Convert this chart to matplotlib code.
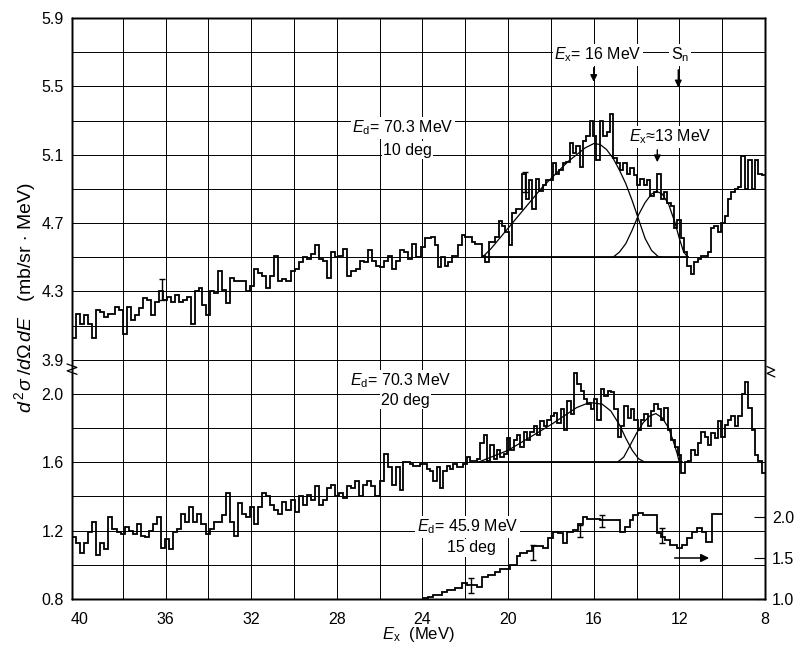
import numpy as np
import matplotlib
matplotlib.use("Agg")
import matplotlib.pyplot as plt
from matplotlib.transforms import blended_transform_factory

plt.rcParams['font.family'] = ['Liberation Sans', 'DejaVu Sans']
plt.rcParams['mathtext.fontset'] = 'custom'
plt.rcParams['mathtext.rm'] = 'Liberation Sans'
plt.rcParams['mathtext.it'] = 'Liberation Sans:italic'
plt.rcParams['mathtext.bf'] = 'Liberation Sans:bold'

# ---------------- data ----------------
# Ed = 70.3 MeV, 10 deg  (mb/sr MeV), bins in three stretches of Ex
ex10_breaks = [40.37, 32.06, 23.9, 8.0]
y10_a = [4.03, 4.17, 4.11, 4.16, 4.11, 4.03, 4.19, 4.18, 4.15, 4.17,
         4.17, 4.21, 4.19, 4.05, 4.21, 4.13, 4.16, 4.20, 4.26, 4.25,
         4.16, 4.24, 4.30, 4.25, 4.27, 4.24, 4.28, 4.24, 4.25, 4.27,
         4.11, 4.30, 4.32, 4.22, 4.16, 4.30, 4.29, 4.42, 4.31, 4.23,
         4.38, 4.36, 4.36, 4.36, 4.30]
y10_b = [4.33, 4.43, 4.41, 4.39, 4.32, 4.39, 4.51, 4.36, 4.37, 4.36,
         4.42, 4.43, 4.47, 4.50, 4.49, 4.52, 4.57, 4.49, 4.48, 4.38,
         4.53, 4.50, 4.51, 4.55, 4.39, 4.42, 4.43, 4.48, 4.47, 4.54,
         4.48, 4.45, 4.44, 4.48, 4.51, 4.43, 4.48, 4.54, 4.53, 4.49,
         4.58, 4.50, 4.56]
y10_c = [4.61, 4.61, 4.62, 4.57, 4.44, 4.50, 4.45, 4.47, 4.51, 4.51,
         4.57, 4.63, 4.62, 4.62, 4.59, 4.58, 4.58, 4.51, 4.47, 4.59,
         4.59, 4.62, 4.71, 4.68, 4.65, 4.57, 4.76, 4.78, 4.78, 4.99,
         4.84, 4.95, 4.78, 4.96, 4.89, 4.92, 4.95, 4.95, 5.05, 4.99,
         5.01, 5.05, 5.06, 5.17, 5.11, 5.15, 5.03, 5.18, 5.21, 5.30,
         5.21, 5.07, 5.30, 5.21, 5.23, 5.34, 5.08, 5.05, 5.01, 5.05,
         4.99, 5.02, 4.98, 4.92, 4.96, 4.92, 4.95, 4.86, 4.88, 4.99,
         4.84, 4.88, 4.82, 4.80, 4.67, 4.72, 4.61, 4.53, 4.45, 4.40,
         4.47, 4.49, 4.51, 4.51, 4.53, 4.67, 4.68, 4.65, 4.70, 4.74,
         4.84, 4.88, 4.90, 4.91, 5.09, 4.90, 5.07, 4.90, 5.07, 4.99,
         4.98]

# Ed = 70.3 MeV, 20 deg
ex20_breaks = [40.37, 25.06, 8.0]
y20_a = [1.16, 1.13, 1.07, 1.13, 1.19, 1.25, 1.06, 1.13, 1.09, 1.28,
         1.21, 1.19, 1.18, 1.22, 1.20, 1.18, 1.24, 1.17, 1.16, 1.20,
         1.24, 1.28, 1.10, 1.15, 1.09, 1.19, 1.21, 1.30, 1.25, 1.34,
         1.25, 1.30, 1.24, 1.18, 1.21, 1.25, 1.25, 1.29, 1.42, 1.25,
         1.17, 1.36, 1.30, 1.28, 1.34, 1.24, 1.34, 1.42, 1.40, 1.35,
         1.32, 1.30, 1.37, 1.32, 1.38, 1.31, 1.40, 1.35, 1.41, 1.38,
         1.46, 1.35, 1.38, 1.45, 1.47, 1.40, 1.42, 1.39, 1.46, 1.45,
         1.49, 1.40, 1.47, 1.49, 1.46, 1.40, 1.49, 1.65, 1.57, 1.47,
         1.57]
y20_b = [1.44, 1.60, 1.60, 1.59, 1.58, 1.58, 1.59, 1.59, 1.56, 1.55,
         1.49, 1.57, 1.45, 1.55, 1.58, 1.56, 1.59, 1.57, 1.57, 1.59,
         1.63, 1.61, 1.61, 1.62, 1.71, 1.76, 1.61, 1.70, 1.62, 1.67,
         1.63, 1.65, 1.74, 1.67, 1.73, 1.76, 1.69, 1.78, 1.73, 1.78,
         1.81, 1.76, 1.84, 1.81, 1.85, 1.87, 1.89, 1.83, 1.91, 1.79,
         1.96, 1.88, 2.12, 2.06, 2.02, 1.97, 1.94, 1.91, 1.97, 1.85,
         2.03, 1.99, 2.02, 2.01, 1.91, 1.75, 1.81, 1.93, 1.86, 1.91,
         1.85, 1.79, 1.85, 1.88, 1.81, 1.90, 1.94, 1.91, 1.85, 1.92,
         1.79, 1.73, 1.69, 1.64, 1.54, 1.60, 1.61, 1.67, 1.64, 1.71,
         1.78, 1.75, 1.70, 1.77, 1.74, 1.84, 1.75, 1.82, 1.85, 1.87,
         1.81, 1.87, 2.00, 2.07, 1.92, 1.79, 1.64, 1.61, 1.54]

# Ed = 45.9 MeV, 15 deg (right-hand scale)
ex45_edges = [24.04, 23.73, 23.50, 23.11, 22.87, 22.49, 22.17, 21.94, 21.47, 21.24,
              20.93, 20.62, 20.38, 19.92, 19.60, 19.45, 19.14, 18.90, 18.67, 18.36,
              18.12, 17.89, 17.66, 17.42, 17.27, 16.96, 16.72, 16.52, 16.33, 15.71,
              14.78, 14.54, 14.31, 14.15, 13.92, 13.69, 13.06, 12.87, 12.67, 12.44,
              12.13, 11.89, 11.66, 11.43, 11.19, 10.96, 10.76, 10.49, 10.02]
y45 = [1.01, 1.03, 1.05, 1.09, 1.11, 1.13, 1.19, 1.17, 1.15, 1.27,
       1.29, 1.33, 1.37, 1.41, 1.52, 1.56, 1.58, 1.65, 1.65, 1.62,
       1.74, 1.82, 1.80, 1.68, 1.82, 1.84, 1.92, 2.00, 1.97, 1.96,
       1.82, 1.88, 1.96, 2.02, 2.05, 2.03, 1.80, 1.76, 1.72, 1.66,
       1.62, 1.66, 1.74, 1.82, 1.86, 1.82, 1.70, 2.04]
err45_ex = [21.71, 18.83, 16.64, 15.63, 12.83]
err45_lo = [1.07, 1.48, 1.76, 1.88, 1.68]
err45_hi = [1.25, 1.66, 1.90, 2.02, 1.86]

err10_ex = [36.18, 19.21]
err10_lo = [4.25, 4.88]
err10_hi = [4.37, 5.00]

# fitted peaks
fit10_big_ex = [21.2, 20.8, 20.4, 20.0, 19.6, 19.2, 18.8, 18.4, 18.0, 17.6, 17.2, 16.8,
                16.4, 16.0, 15.7, 15.4, 15.1, 14.8, 14.5, 14.2, 13.9, 13.6, 13.3, 13.0, 12.8]
fit10_big_y = [4.50, 4.55, 4.61, 4.67, 4.73, 4.79, 4.85, 4.91, 4.96, 5.01, 5.06, 5.10,
               5.14, 5.165, 5.16, 5.13, 5.08, 5.01, 4.93, 4.83, 4.72, 4.61, 4.54, 4.505, 4.50]
fit10_small_ex = [15.1, 14.8, 14.5, 14.2, 13.9, 13.6, 13.3, 13.05, 12.8, 12.5, 12.2, 12.0, 11.8, 11.6]
fit10_small_y = [4.50, 4.53, 4.58, 4.66, 4.75, 4.82, 4.87, 4.885, 4.87, 4.81, 4.70, 4.61, 4.53, 4.50]
base10 = 4.5
base10_ex = [21.2, 11.6]

fit20_big_ex = [21.4, 20.8, 20.0, 19.2, 18.4, 18.0, 17.4, 16.8, 16.2, 15.6, 15.2, 14.8,
                14.5, 14.2, 13.9, 13.6]
fit20_big_y = [1.60, 1.63, 1.67, 1.73, 1.79, 1.82, 1.87, 1.92, 1.95, 1.94, 1.90, 1.82,
               1.74, 1.67, 1.62, 1.60]
fit20_small_ex = [14.9, 14.6, 14.3, 14.0, 13.7, 13.4, 13.1, 12.8, 12.5, 12.3, 12.1, 12.0]
fit20_small_y = [1.60, 1.63, 1.70, 1.77, 1.83, 1.87, 1.885, 1.86, 1.80, 1.73, 1.65, 1.60]
base20 = 1.6
base20_ex = [21.4, 11.9]

xticks = [40, 36, 32, 28, 24, 20, 16, 12, 8]
lower_ticks = [0.8, 1.2, 1.6, 2.0]
upper_ticks = [3.9, 4.3, 4.7, 5.1, 5.5, 5.9]
right_ticks = [1.0, 1.5, 2.0]

# axis scales: lower panel 0.8-4.2 in plot units, upper panel shifted by 1.7
ylim_low = (0.8, 4.2)
shift_up = 1.7
right_scale = 0.48   # plot units per unit of the right-hand scale


def edges_from(breaks, parts):
    out = [np.linspace(breaks[0], breaks[1], len(parts[0]) + 1)]
    for i in range(1, len(parts)):
        out.append(np.linspace(breaks[i], breaks[i + 1], len(parts[i]) + 1)[1:])
    return np.concatenate(out)


fig = plt.figure(figsize=(7.95, 6.56), dpi=100)
ax = fig.add_axes([72 / 795, 57 / 656, 693 / 795, 581 / 656])
ax.set_xlim(40.37, 8)
ax.set_ylim(*ylim_low)

ax_up = ax.twinx()
ax_up.set_ylim(ylim_low[0] + shift_up, ylim_low[1] + shift_up)
ax_r = ax.twinx()
ax_r.set_ylim(1.0, 1.0 + (ylim_low[1] - ylim_low[0]) / right_scale)

# grid
for x in np.arange(38, 9, -2):
    ax.axvline(x, color='k', lw=0.7, zorder=0)
for y in np.arange(0.8, 4.21, 0.2):
    ax.axhline(y, color='k', lw=0.7, zorder=0)

hist_kw = dict(color='k', lw=1.3, baseline=None)
fit_kw = dict(color='k', lw=0.9)

# 10 deg spectrum
v10 = np.concatenate([y10_a, y10_b, y10_c])
e10 = edges_from(ex10_breaks, [y10_a, y10_b, y10_c])
ax_up.stairs(v10[::-1], e10[::-1], **hist_kw)
ax_up.plot(fit10_big_ex, fit10_big_y, **fit_kw)
ax_up.plot(fit10_small_ex, fit10_small_y, **fit_kw)
ax_up.plot(base10_ex, [base10, base10], color='k', lw=1.3)
for x, lo, hi in zip(err10_ex, err10_lo, err10_hi):
    ax_up.errorbar(x, (lo + hi) / 2, yerr=(hi - lo) / 2, fmt='none', ecolor='k',
                   elinewidth=1, capsize=2)

# 20 deg spectrum
v20 = np.concatenate([y20_a, y20_b])
e20 = edges_from(ex20_breaks, [y20_a, y20_b])
ax.stairs(v20[::-1], e20[::-1], **hist_kw)
ax.plot(fit20_big_ex, fit20_big_y, **fit_kw)
ax.plot(fit20_small_ex, fit20_small_y, **fit_kw)
ax.plot(base20_ex, [base20, base20], color='k', lw=1.3)

# 45.9 MeV spectrum on the right scale
ax_r.stairs(np.array(y45)[::-1], np.array(ex45_edges)[::-1], **hist_kw)
for x, lo, hi in zip(err45_ex, err45_lo, err45_hi):
    ax_r.errorbar(x, (lo + hi) / 2, yerr=(hi - lo) / 2, fmt='none', ecolor='k',
                  elinewidth=1, capsize=2.5)
ax_r.annotate('', xy=(10.48, 1.5), xytext=(12.35, 1.5),
              arrowprops=dict(arrowstyle='-|>', color='k', lw=1.1, mutation_scale=12))

# ticks
fs = 11.5
ax.set_xticks(xticks)
ax.set_xticklabels([str(t) for t in xticks], fontsize=fs)
ax.tick_params(axis='x', length=0, pad=9)
ax.set_yticks(lower_ticks)
ax.set_yticklabels([f"{t:.1f}" for t in lower_ticks], fontsize=fs)
ax.tick_params(axis='y', length=0, pad=6)
ax_up.yaxis.tick_left()
ax_up.set_yticks(upper_ticks)
ax_up.set_yticklabels([f"{t:.1f}" for t in upper_ticks], fontsize=fs)
ax_up.tick_params(axis='y', length=0, pad=6)
ax_r.set_yticks(right_ticks)
ax_r.set_yticklabels([f"{t:.1f}" for t in right_ticks], fontsize=fs)
ax_r.tick_params(axis='y', direction='in', length=8, width=0.8, pad=5)

for a in (ax, ax_up, ax_r):
    for s in a.spines.values():
        s.set_linewidth(1.0)

# axis-break marks
tl = blended_transform_factory(ax.transAxes, ax.transData)
ax.plot([-0.007, 0.007, -0.007, 0.007], [2.175, 2.155, 2.135, 2.115],
        color='k', lw=0.9, transform=tl, clip_on=False)
ax.plot([1.003, 1.014, 1.003, 1.014], [2.16, 2.14, 2.12, 2.10],
        color='k', lw=0.9, transform=tl, clip_on=False)

# annotations
fs_t = 11.5
box = dict(facecolor='white', edgecolor='none', pad=1.0)
ax_up.text(24.9, 5.256, r'$E_\mathrm{d}$= 70.3 MeV', fontsize=fs_t, ha='center', va='center', bbox=box)
ax_up.text(24.7, 5.127, '10 deg', fontsize=fs_t, ha='center', va='center', bbox=box)
ax_up.text(15.8, 5.683, r'$E_\mathrm{x}$= 16 MeV', fontsize=fs_t, ha='center', va='center', bbox=box)
ax_up.text(11.97, 5.683, r'S$_\mathrm{n}$', fontsize=fs_t, ha='center', va='center', bbox=box)
ax_up.text(12.44, 5.203, r'$E_\mathrm{x}$≈13 MeV', fontsize=fs_t, ha='center', va='center', bbox=box)
arrow_kw = dict(arrowstyle='-|>', color='k', lw=1.0, mutation_scale=10)
ax_up.annotate('', xy=(16.0, 5.51), xytext=(16.0, 5.625), arrowprops=arrow_kw)
ax_up.annotate('', xy=(12.05, 5.478), xytext=(12.05, 5.613), arrowprops=arrow_kw)
ax_up.annotate('', xy=(13.03, 5.04), xytext=(13.03, 5.145), arrowprops=arrow_kw)

ax.text(25.0, 2.076, r'$E_\mathrm{d}$= 70.3 MeV', fontsize=fs_t, ha='center', va='center', bbox=box)
ax.text(24.8, 1.964, '20 deg', fontsize=fs_t, ha='center', va='center', bbox=box)
ax_r.text(21.9, 1.878, r'$E_\mathrm{d}$= 45.9 MeV', fontsize=fs_t, ha='center', va='center', bbox=box)
ax_r.text(21.7, 1.622, '15 deg', fontsize=fs_t, ha='center', va='center', bbox=box)

fig.text(25 / 795, 1 - 298 / 656, r'$d^{\,2}\sigma\;/d\Omega\,dE$   (mb/sr $\cdot$ MeV)',
         rotation=90, ha='center', va='center', fontsize=14)
fig.text(418 / 795, 1 - 635 / 656, r'$E_\mathrm{x}$  (MeV)', ha='center', va='center', fontsize=12)

fig.savefig('out.png', dpi=100)
